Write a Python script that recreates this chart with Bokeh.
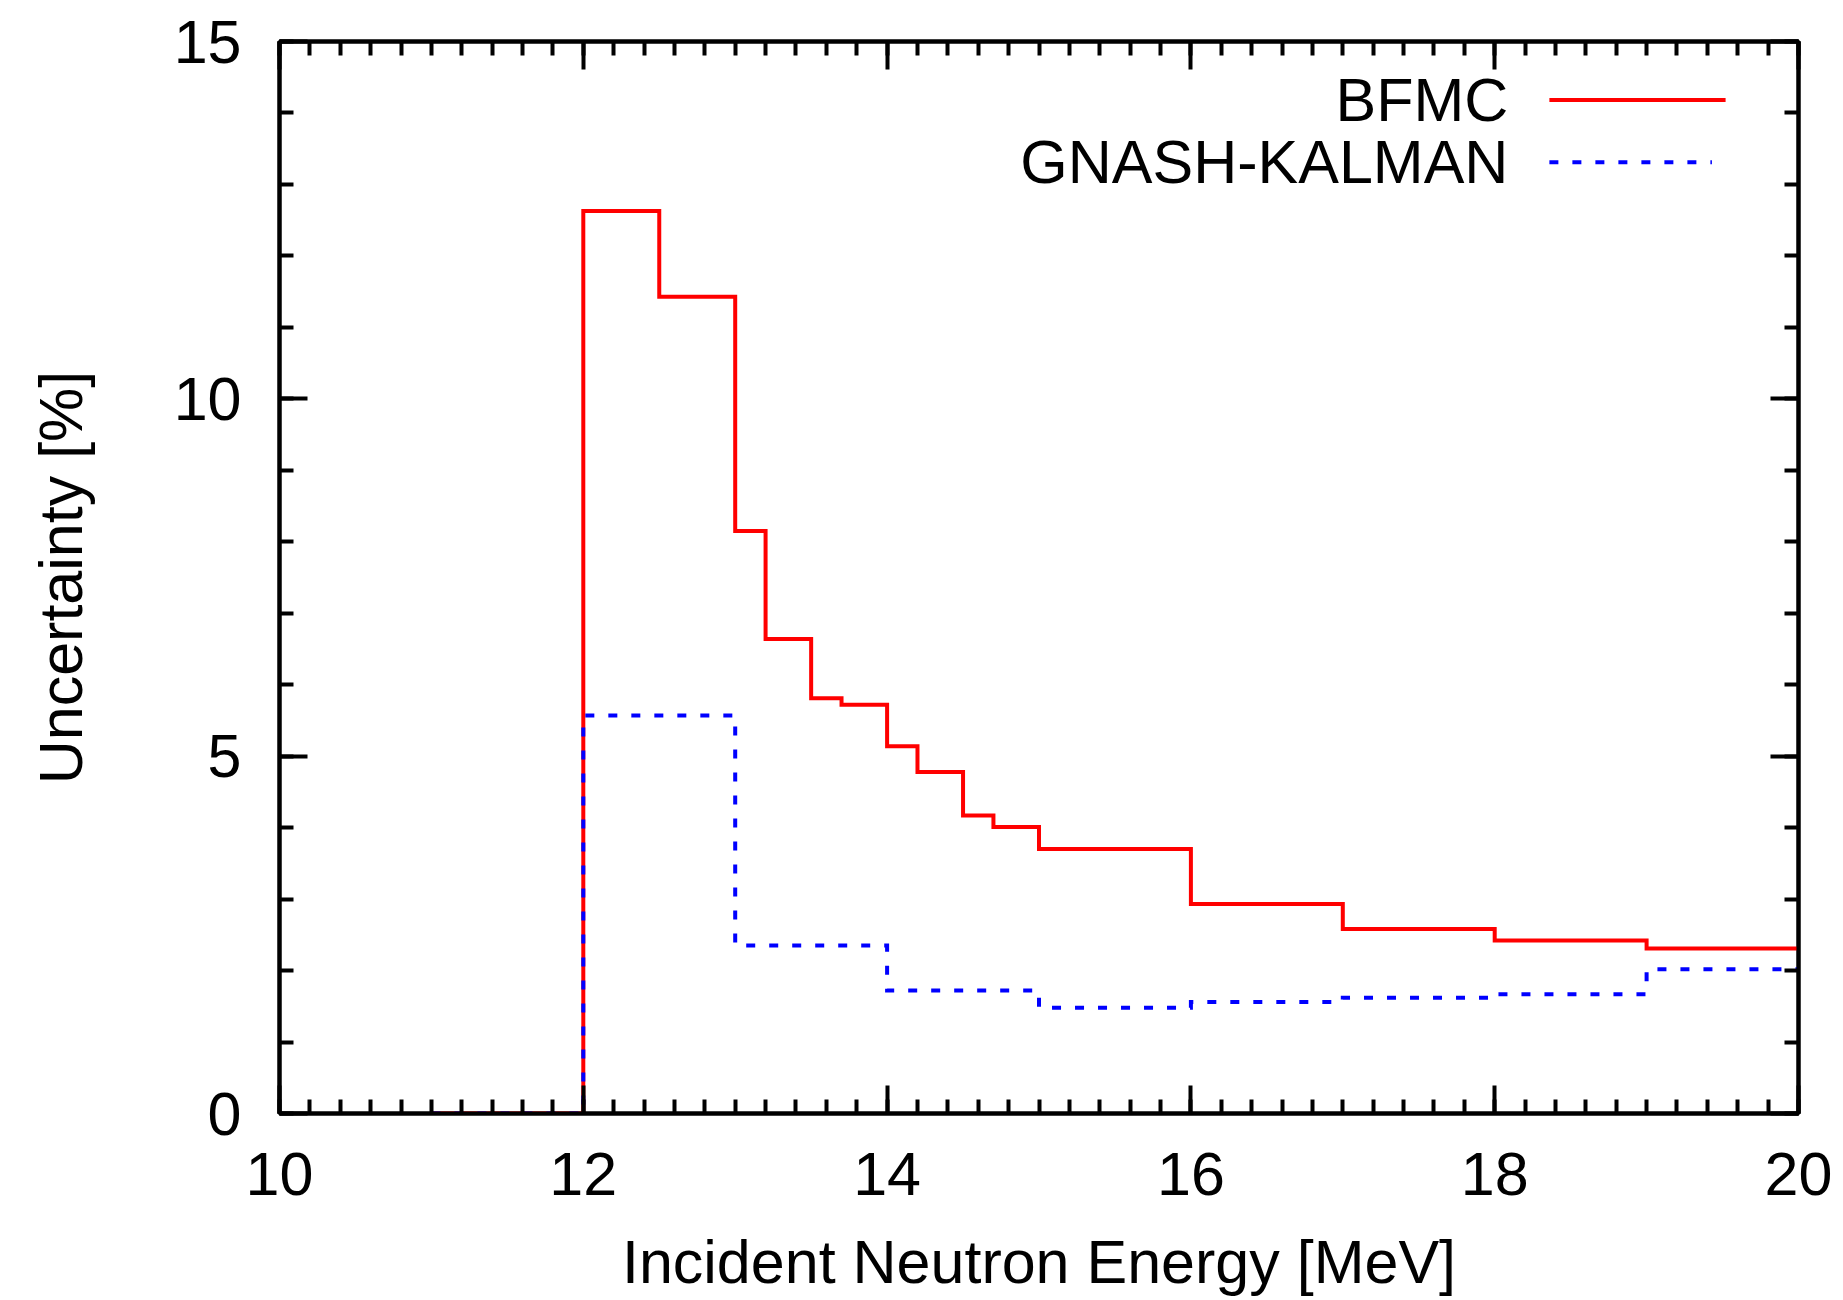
from bokeh.plotting import figure
from bokeh.models import (Range1d, LinearAxis, SingleIntervalTicker, Label, CustomJSTickFormatter,
                          Legend, LegendItem)
from bokeh.embed import file_html
from bokeh.resources import INLINE

# ---- data ----
bfmc_edges = [11.0, 12.0, 12.5, 13.0, 13.2, 13.5, 13.7, 14.0, 14.2, 14.5, 14.7, 15.0, 16.0, 17.0, 18.0, 19.0, 20.0]
bfmc_vals = [0.0, 12.63, 11.43, 8.15, 6.64, 5.81, 5.72, 5.14, 4.78, 4.17, 4.01, 3.70, 2.93, 2.58, 2.42, 2.31]

gk_edges = [11.0, 12.0, 13.0, 14.0, 15.0, 16.0, 17.0, 18.0, 19.0, 20.0]
gk_vals = [0.0, 5.57, 2.35, 1.72, 1.48, 1.56, 1.62, 1.67, 2.02]

series_names = ["BFMC", "GNASH-KALMAN"]
x_label = "Incident Neutron Energy [MeV]"
y_label = "Uncertainty [%]"

FONT = "Liberation Sans"
FS = "61px"

p = figure(width=1843, height=1300, output_backend="svg", toolbar_location=None,
           x_range=Range1d(10, 20), y_range=Range1d(0, 15),
           min_border_left=279, min_border_right=45, min_border_top=41, min_border_bottom=187,
           x_axis_label=x_label, y_axis_label=y_label)
p.grid.grid_line_color = None
p.outline_line_color = "black"
p.outline_line_width = 4
p.background_fill_color = "white"
p.border_fill_color = "white"

xt = SingleIntervalTicker(interval=2, num_minor_ticks=10)
yt = SingleIntervalTicker(interval=5, num_minor_ticks=5)

def style(ax, show_labels):
    ax.axis_line_width = 4
    ax.axis_line_color = "black"
    ax.major_tick_line_width = 4
    ax.minor_tick_line_width = 4
    ax.major_tick_in = 28
    ax.major_tick_out = 0
    ax.minor_tick_in = 14
    ax.minor_tick_out = 0
    ax.major_label_text_font = FONT
    ax.axis_label_text_font = FONT
    ax.axis_label_text_font_style = "normal"
    ax.axis_label_text_font_size = FS
    ax.axis_label_text_color = "black"
    if show_labels:
        ax.major_label_text_font_size = FS
        ax.major_label_text_color = "black"
    else:
        ax.formatter = CustomJSTickFormatter(code="return ''")
        ax.major_label_text_color = None
        ax.major_label_text_font_size = "10px"
        ax.major_label_standoff = 0

xa = p.xaxis[0]
xa.ticker = xt
style(xa, True)
xa.major_label_standoff = 39
xa.axis_label_standoff = 30

ya = p.yaxis[0]
ya.ticker = yt
style(ya, True)
ya.major_label_standoff = 38
ya.axis_label_standoff = 76

top = LinearAxis(ticker=SingleIntervalTicker(interval=2, num_minor_ticks=10))
style(top, False)
p.add_layout(top, "above")
right = LinearAxis(ticker=SingleIntervalTicker(interval=5, num_minor_ticks=5))
style(right, False)
p.add_layout(right, "right")

# ---- data lines ----
p.step(x=bfmc_edges, y=bfmc_vals + [bfmc_vals[-1]], mode="after",
       line_color="#ff0000", line_width=4, line_join="miter")
p.step(x=gk_edges, y=gk_vals + [gk_vals[-1]], mode="after",
       line_color="#0000ff", line_width=4, line_dash="9 14", line_join="miter")

# ---- legend (text right-aligned, sample to the right) ----
LEG_TEXT_X = 18.09
LEG_LINE_X0 = 18.36
LEG_LINE_X1 = [19.52, 19.43]
LEG_Y = [14.18, 13.31]
p.add_layout(Label(x=LEG_TEXT_X, y=LEG_Y[0], text=series_names[0], text_align="right",
                   text_baseline="middle", text_font=FONT, text_font_size=FS, text_color="black"))
p.add_layout(Label(x=LEG_TEXT_X, y=LEG_Y[1], text=series_names[1], text_align="right",
                   text_baseline="middle", text_font=FONT, text_font_size=FS, text_color="black"))
p.segment(x0=[LEG_LINE_X0], y0=[LEG_Y[0]], x1=[LEG_LINE_X1[0]], y1=[LEG_Y[0]],
          line_color="#ff0000", line_width=4)
p.segment(x0=[LEG_LINE_X0], y0=[LEG_Y[1]], x1=[LEG_LINE_X1[1]], y1=[LEG_Y[1]],
          line_color="#0000ff", line_width=4, line_dash="9 14")

# stray, clipped tick label "0" at the far left edge of the reference image
ghost = p.line(x=[], y=[], line_alpha=0)
stray = Legend(items=[LegendItem(label="0", renderers=[ghost])], location=(-289, -57),
               glyph_width=1, glyph_height=1, padding=0, margin=0, spacing=0, label_standoff=0,
               label_text_font=FONT, label_text_font_size="56px", label_text_color="black",
               border_line_color=None, background_fill_alpha=0)
p.add_layout(stray, "center")

open("out.html", "w").write(file_html(p, INLINE))
